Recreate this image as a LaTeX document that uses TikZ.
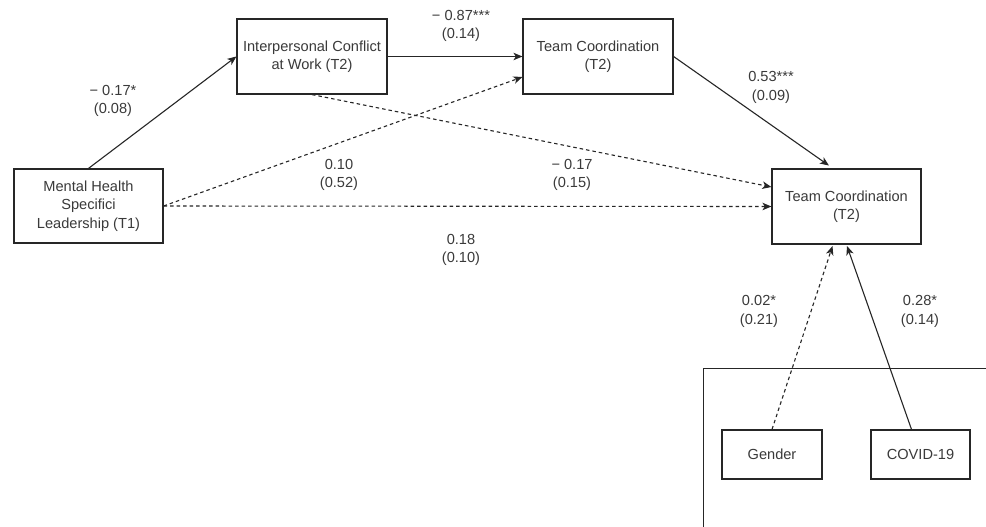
\documentclass[tikz,border=0pt]{standalone}
\usepackage{fontspec}
\setmainfont{Liberation Sans}
\usetikzlibrary{arrows.meta,calc}
\definecolor{txt}{HTML}{3a3a3a}
\definecolor{ln}{HTML}{262626}
\begin{document}
\begin{tikzpicture}[x=1pt,y=-1pt,
  box/.style={draw=ln, line width=1.2pt, fill=white, text=txt, align=center,
    font=\fontsize{14.6}{18.5}\selectfont, inner sep=0pt},
  lbl/.style={text=txt, align=center, font=\fontsize{14.6}{18.5}\selectfont, inner sep=0pt},
  conn/.style={draw=ln, line width=1.1pt, -{Stealth[length=9pt,width=7.5pt,inset=2.5pt]}},
  dsh/.style={conn, dash pattern=on 3.5pt off 3pt}]
\fill[white] (0,0) rectangle (986,527);
\useasboundingbox (0,0) rectangle (986,527);
% enclosing frame (clipped at the picture edges)
\draw[draw=ln, line width=1pt] (703,527) -- (703,368) -- (986,368);
% nodes
\node[box, minimum width=150pt, minimum height=75pt] (icw) at (312,56.5) {Interpersonal Conflict\\at Work (T2)};
\node[box, minimum width=150pt, minimum height=75pt] (tc) at (598,56.5) {Team Coordination\\(T2)};
\node[box, minimum width=149pt, minimum height=74pt] (mh) at (88.5,206) {Mental Health\\Specifici\\Leadership (T1)};
\node[box, minimum width=149pt, minimum height=75pt] (tco) at (846.5,206.5) {Team Coordination\\(T2)};
\node[box, minimum width=100pt, minimum height=49pt] (gen) at (772,454.5) {Gender};
\node[box, minimum width=99pt, minimum height=49pt] (cov) at (920.5,454.5) {COVID-19};
% connectors
\draw[conn] (mh.north) -- (icw.west);
\draw[conn] (icw.east) -- (tc.west);
\draw[dsh] (mh.east) -- ([yshift=-20.5pt]tc.west);
\draw[dsh] (icw.south) -- ([yshift=19.5pt]tco.west);
\draw[dsh] (mh.east) -- (tco.west);
\draw[conn, shorten >=5pt] (tc.east) -- ([xshift=-13.5pt]tco.north);
\draw[dsh, shorten >=1.5pt] (gen.north) -- ([xshift=-13.5pt]tco.south);
\draw[conn, shorten >=1.5pt] ([xshift=-9pt]cov.north) -- (tco.south);
% labels
\node[lbl] (l1) at (113,101) {− 0.17*\\(0.08)};
\node[lbl] (l2) at (461,26) {− 0.87***\\(0.14)};
\node[lbl] (l3) at (771,87.5) {0.53***\\(0.09)};
\node[lbl] (l4) at (339,175) {0.10\\(0.52)};
\node[lbl] (l5) at (572,175) {− 0.17\\(0.15)};
\node[lbl] (l6) at (461,250) {0.18\\(0.10)};
\node[lbl] (l7) at (759,311.5) {0.02*\\(0.21)};
\node[lbl] (l8) at (920,311.5) {0.28*\\(0.14)};
\end{tikzpicture}
\end{document}
